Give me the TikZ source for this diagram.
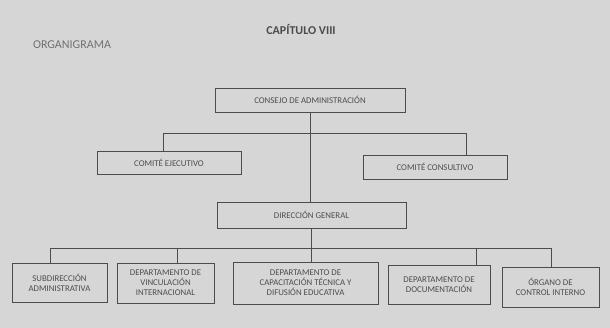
\documentclass[tikz,border=0pt]{standalone}
\usepackage{fontspec}
\setmainfont{Carlito}
\definecolor{papel}{gray}{0.84}
\definecolor{tinta}{gray}{0.30}
\begin{document}
\begin{tikzpicture}[x=1pt,y=-1pt,
    caja/.style={draw=tinta,line width=0.8pt,align=center,text=tinta,
      font=\fontsize{8.8}{10}\selectfont,inner sep=1pt},
    linea/.style={draw=tinta,line width=0.7pt},
    titulo/.style={text=tinta,font=\fontsize{12}{13}\selectfont}]
  \useasboundingbox[fill=papel] (0,0) rectangle (610,328);

  % titulos
  \node[titulo,font=\fontsize{12}{13}\selectfont\bfseries] (cap) at (301,30) {CAPÍTULO VIII};
  \node[titulo,text=tinta!80] (orga) at (72,45) {ORGANIGRAMA};

  % cajas
  \node[caja,minimum width=190,minimum height=24] (conse) at (310,100) {CONSEJO DE ADMINISTRACIÓN};
  \node[caja,minimum width=144,minimum height=23] (ejec) at (169,162.5) {COMITÉ EJECUTIVO};
  \node[caja,minimum width=144,minimum height=24] (consul) at (435,167) {COMITÉ CONSULTIVO};
  \node[caja,minimum width=189,minimum height=26] (dirg) at (311.5,215) {DIRECCIÓN GENERAL};

  \node[caja,minimum width=95,minimum height=39] (subd) at (59.5,282.5) {SUBDIRECCIÓN\\ADMINISTRATIVA};
  \node[caja,minimum width=97,minimum height=40] (vinc) at (165.5,283) {DEPARTAMENTO DE\\VINCULACIÓN\\INTERNACIONAL};
  \node[caja,minimum width=145,minimum height=42] (capac) at (305.5,283) {DEPARTAMENTO DE\\CAPACITACIÓN TÉCNICA Y\\DIFUSIÓN EDUCATIVA};
  \node[caja,minimum width=102,minimum height=39] (docu) at (439,284.5) {DEPARTAMENTO DE\\DOCUMENTACIÓN};
  \node[caja,minimum width=97,minimum height=40] (organo) at (550.5,287) {ÓRGANO DE\\CONTROL INTERNO};

  % lineas de mando
  \coordinate (busL) at (163,133);
  \coordinate (busR) at (466,133);
  \coordinate (busA) at (50,248);
  \coordinate (busB) at (551,248);
  \coordinate (tV) at (177,248);
  \coordinate (tD) at (476,248);

  \draw[linea] (conse.south) -- (conse.south |- dirg.north);
  \draw[linea] (ejec.north -| busL) -- (busL) -- (busR) -- (consul.north -| busR);
  \draw[linea] (dirg.south) -- (dirg.south |- capac.north);
  \draw[linea] (subd.north -| busA) -- (busA) -- (busB) -- (organo.north -| busB);
  \draw[linea] (tV) -- (vinc.north -| tV);
  \draw[linea] (tD) -- (docu.north -| tD);
\end{tikzpicture}
\end{document}
